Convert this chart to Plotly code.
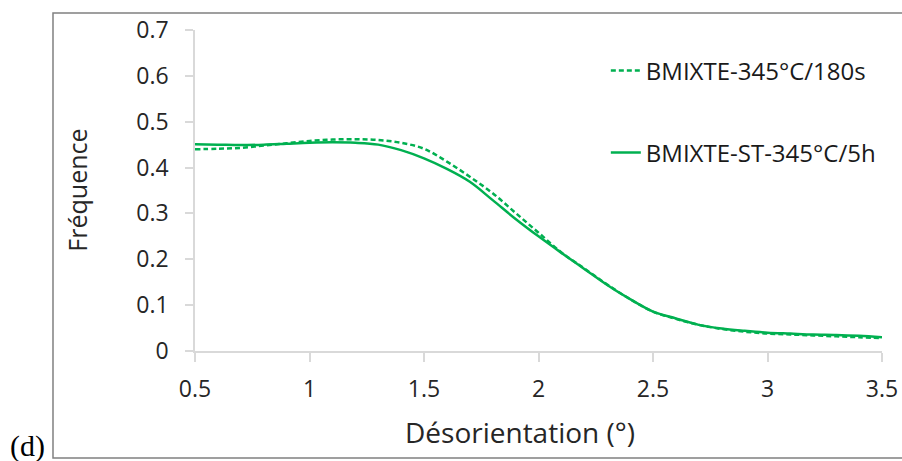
import plotly.graph_objects as go

# misorientation (deg)
desorientation = [0.5, 0.6, 0.7, 0.8, 0.9, 1.0, 1.1, 1.2, 1.3, 1.4, 1.5,
                  1.6, 1.7, 1.8, 1.9, 2.0, 2.1, 2.2, 2.3, 2.4, 2.5,
                  2.6, 2.7, 2.8, 2.9, 3.0, 3.1, 3.2, 3.3, 3.4, 3.5]

# BMIXTE-345°C/180s (dashed)
freq_180s = [0.440, 0.441, 0.443, 0.448, 0.453, 0.458, 0.461, 0.462, 0.460, 0.454, 0.441,
             0.413, 0.380, 0.344, 0.301, 0.258, 0.215, 0.180, 0.145, 0.113, 0.086,
             0.070, 0.057, 0.048, 0.042, 0.038, 0.036, 0.034, 0.032, 0.030, 0.028]

# BMIXTE-ST-345°C/5h (solid)
freq_5h = [0.451, 0.450, 0.449, 0.450, 0.452, 0.454, 0.455, 0.454, 0.450, 0.438, 0.420,
           0.397, 0.369, 0.329, 0.288, 0.250, 0.214, 0.179, 0.144, 0.113, 0.086,
           0.071, 0.057, 0.049, 0.044, 0.040, 0.038, 0.036, 0.035, 0.033, 0.030]

green = "#00B050"
axis_grey = "#d9d9d9"
font_main = "Open Sans, Liberation Sans, sans-serif"

fig = go.Figure()
fig.add_trace(go.Scatter(x=desorientation, y=freq_180s, mode="lines",
                         name="BMIXTE-345°C/180s", legendgroup="a",
                         line=dict(color=green, width=2.5, dash="5px,3px", shape="spline")))
fig.add_trace(go.Scatter(x=desorientation, y=freq_5h, mode="lines",
                         name="BMIXTE-ST-345°C/5h", legendgroup="b",
                         line=dict(color=green, width=2.5, shape="spline")))

fig.update_layout(
    width=902, height=461,
    margin=dict(l=195, r=20, t=30, b=110),
    paper_bgcolor="white", plot_bgcolor="white",
    font=dict(family=font_main, size=23, color="#262626"),
    showlegend=True,
    legend=dict(x=0.598, y=0.943, xanchor="left", yanchor="top",
                bgcolor="rgba(0,0,0,0)", tracegroupgap=48,
                font=dict(size=24, color="#1a1a1a"), itemwidth=30),
    xaxis=dict(range=[0.5, 3.5], dtick=0.5, showgrid=False, zeroline=False,
               automargin=False,
               showline=True, linecolor=axis_grey, linewidth=1.5,
               ticks="outside", ticklen=9, tickcolor=axis_grey, tickwidth=1.5,
               ticklabelstandoff=8),
    yaxis=dict(range=[0, 0.7], dtick=0.1, showgrid=False, zeroline=False,
               automargin=False,
               showline=True, linecolor=axis_grey, linewidth=1.5,
               ticks="outside", ticklen=8, tickcolor=axis_grey, tickwidth=1.5,
               ticklabelstandoff=12),
)

# axis titles (Excel centres the x title on the chart, not the plot area)
fig.add_annotation(text="Désorientation (°)", xref="paper", yref="paper",
                   x=0.473, y=-0.252, xanchor="center", yanchor="middle",
                   showarrow=False, font=dict(size=28))
fig.add_annotation(text="Fréquence", xref="paper", yref="paper",
                   x=-0.173, y=0.5, xanchor="center", yanchor="middle",
                   textangle=-90, showarrow=False, font=dict(size=25))

# outer frame of the original figure
fig.add_shape(type="rect", xref="paper", yref="paper",
              x0=-0.2067, x1=1.04, y0=-0.333, y1=1.053,
              line=dict(color="#808080", width=1.5), layer="below")

fig.add_annotation(text="(d)", xref="paper", yref="paper",
                   x=-0.2445, y=-0.296, xanchor="center", yanchor="middle",
                   showarrow=False,
                   font=dict(family="Liberation Serif, serif", size=30, color="black"))

# drop the default 8px body margin so the 902x461 figure fills the window
fig.write_html("out.html",
               config={"displayModeBar": False},
               post_script="document.body.style.margin='0';"
                           "document.body.style.overflow='hidden';")
